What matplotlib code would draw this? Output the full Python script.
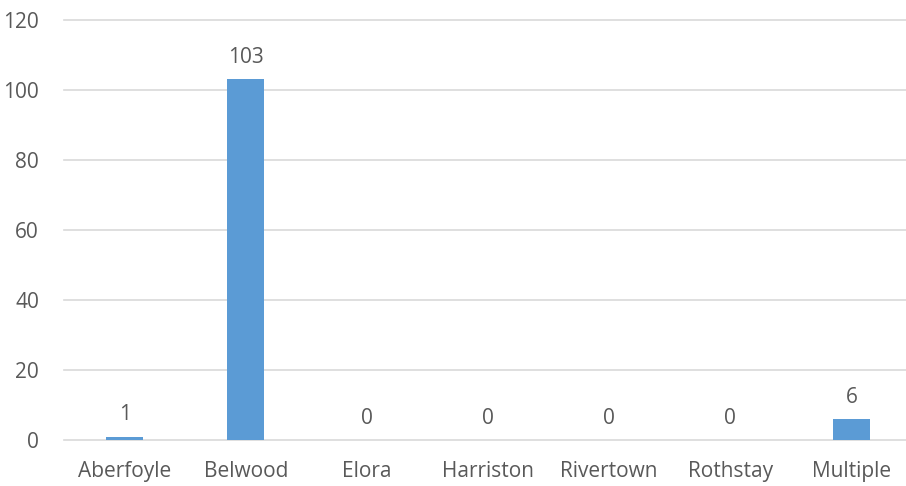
import matplotlib.pyplot as plt

towns = ['Aberfoyle', 'Belwood', 'Elora', 'Harriston', 'Rivertown', 'Rothstay', 'Multiple']
counts = [1, 103, 0, 0, 0, 0, 6]
yticks = [0, 20, 40, 60, 80, 100, 120]

plt.rcParams['font.family'] = ['Open Sans', 'DejaVu Sans']
txt = '#595959'

fig = plt.figure(figsize=(9.06, 4.86), dpi=100)
ax = fig.add_axes([64 / 906, 46 / 486, 848 / 906, 420 / 486])

x = range(len(towns))
bars = ax.bar(x, counts, width=0.31, color='#5B9BD5', zorder=2)
for b, v in zip(bars, counts):
    ax.annotate(str(v), (b.get_x() + b.get_width() / 2, v), xytext=(0, 8),
                textcoords='offset points', ha='center', va='bottom',
                fontsize=15, color=txt)

ax.set_xlim(-0.5, len(towns) - 0.5)
ax.set_ylim(0, 120)
ax.set_yticks(yticks)
ax.set_xticks(list(x))
ax.set_xticklabels(towns)
ax.grid(axis='y', color='#D9D9D9', linewidth=1.2, zorder=0)
for gl in ax.get_ygridlines():
    gl.set_clip_on(False)
for s in ax.spines.values():
    s.set_visible(False)
ax.tick_params(length=0, labelsize=15, labelcolor=txt)
ax.tick_params(axis='y', pad=18)
ax.tick_params(axis='x', pad=15)

fig.savefig('out.png', dpi=100)
